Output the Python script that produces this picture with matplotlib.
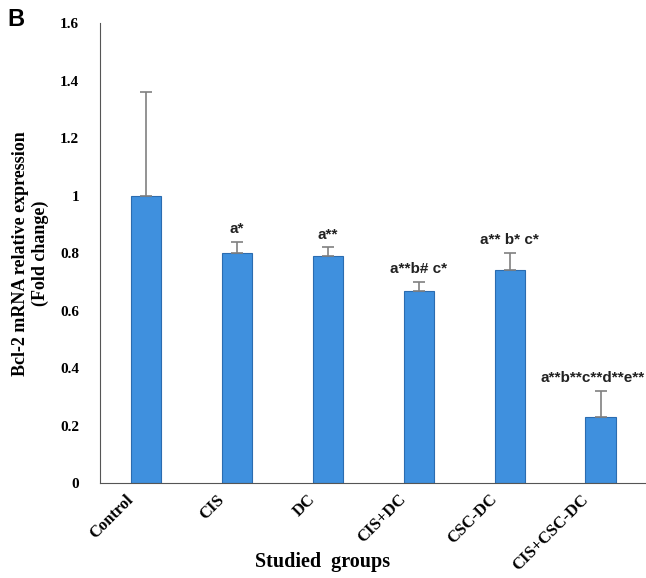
import numpy as np
import matplotlib.pyplot as plt
import matplotlib.transforms as mtransforms

groups = ['Control', 'CIS', 'DC', 'CIS+DC', 'CSC-DC', 'CIS+CSC-DC']
fold_change = [1.00, 0.80, 0.79, 0.67, 0.74, 0.23]
err_upper = [0.36, 0.04, 0.03, 0.03, 0.06, 0.09]
sig_labels = ['', 'a*', 'a**', 'a**b# c*', 'a** b* c*', 'a**b**c**d**e**']

fig = plt.figure(figsize=(6.46, 5.78), dpi=100)
ax = fig.add_axes([0.155, 0.164, 0.845, 0.796])

x = np.arange(len(groups))
ax.bar(x, fold_change, width=0.33, color='#3f90de', edgecolor='#2b6cb0',
       linewidth=0.8, zorder=2)
ax.errorbar(x, fold_change, yerr=[np.zeros(len(x)), err_upper], fmt='none',
            ecolor='#808080', elinewidth=1.2, capsize=4, capthick=1.2, zorder=3)

for i, (xi, v, e, lab) in enumerate(zip(x, fold_change, err_upper, sig_labels)):
    if not lab:
        continue
    # the last label sits against the right edge of the figure
    if i == len(groups) - 1:
        ax.text(xi + 0.49, v + e + 0.02, lab, ha='right', va='bottom',
                fontsize=11, fontweight='bold', family='Liberation Sans',
                color='#222222', clip_on=False)
    else:
        ax.text(xi, v + e + 0.02, lab, ha='center', va='bottom',
                fontsize=11, fontweight='bold', family='Liberation Sans',
                color='#222222', clip_on=False)

ax.set_xlim(-0.5, len(groups) - 0.5)
ax.set_ylim(0, 1.6)
ax.set_yticks(np.arange(0, 1.61, 0.2))
ax.set_yticklabels(['0', '0.2', '0.4', '0.6', '0.8', '1', '1.2', '1.4', '1.6'])
ax.set_xticks(x)
ax.set_xticklabels(groups, rotation=45, ha='right', rotation_mode='anchor')
ax.tick_params(axis='y', length=0, pad=15)
ax.tick_params(axis='x', length=0, pad=6)
shift = mtransforms.ScaledTranslation(-20 / 100, 0, fig.dpi_scale_trans)
for t in ax.get_xticklabels():
    t.set_transform(t.get_transform() + shift)
    t.set_fontsize(12)
for t in ax.get_yticklabels():
    t.set_fontsize(11)
for t in ax.get_xticklabels() + ax.get_yticklabels():
    t.set_fontfamily('Liberation Serif')
    t.set_fontweight('bold')

ax.spines['top'].set_visible(False)
ax.spines['right'].set_visible(False)
ax.spines['left'].set_color('#555555')
ax.spines['bottom'].set_color('#555555')

ax.set_ylabel('Bcl-2 mRNA relative expression\n(Fold change)',
              family='Liberation Serif', fontweight='bold', fontsize=13, labelpad=8)
fig.text(0.5, 0.01, 'Studied  groups', ha='center', va='bottom',
         family='Liberation Serif', fontweight='bold', fontsize=14.5)
fig.text(0.012, 0.955, 'B', family='Liberation Sans', fontweight='bold', fontsize=17)

fig.savefig('out.png', dpi=100)
